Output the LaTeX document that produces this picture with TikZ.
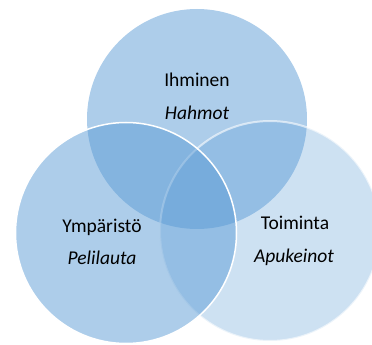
\documentclass[tikz,border=0pt]{standalone}
\usepackage{fontspec}
\setmainfont{Carlito}
\usepackage{tikz}
\definecolor{vennblue}{RGB}{91,155,213}

\begin{document}
\begin{tikzpicture}[x=1pt, y=1pt,
  bubble/.style={circle, inner sep=0pt, outer sep=0pt, fill=vennblue},
  word/.style={font=\fontsize{19.5}{23}\selectfont, inner sep=0pt}]
  \useasboundingbox (0,0) rectangle (372,345);

  % Draw the top bubble
  \node[bubble, fill opacity=0.5, minimum size=220pt] (ihminen) at (197,226) {};

  % Draw the right bubble with a soft white rim
  \node[bubble, fill opacity=0.3, draw=white, draw opacity=0.6, line width=2pt, minimum size=220pt] (toiminta) at (270,114) {};

  % Draw the left bubble with a white rim
  \node[bubble, fill opacity=0.5, draw=white, line width=1.5pt, minimum size=221pt] (ymparisto) at (126,112) {};

  % Texts in the bubbles
  \node[word] (ihminenA) at (197,265) {Ihminen};
  \node[word] (ihminenB) at (197,232) {\itshape Hahmot};
  \node[word] (ymparistoA) at (102,118) {Ympäristö};
  \node[word] (ymparistoB) at (102,87) {\itshape Pelilauta};
  \node[word] (toimintaA) at (295,122) {Toiminta};
  \node[word] (toimintaB) at (294,88) {\itshape Apukeinot};

\end{tikzpicture}
\end{document}
